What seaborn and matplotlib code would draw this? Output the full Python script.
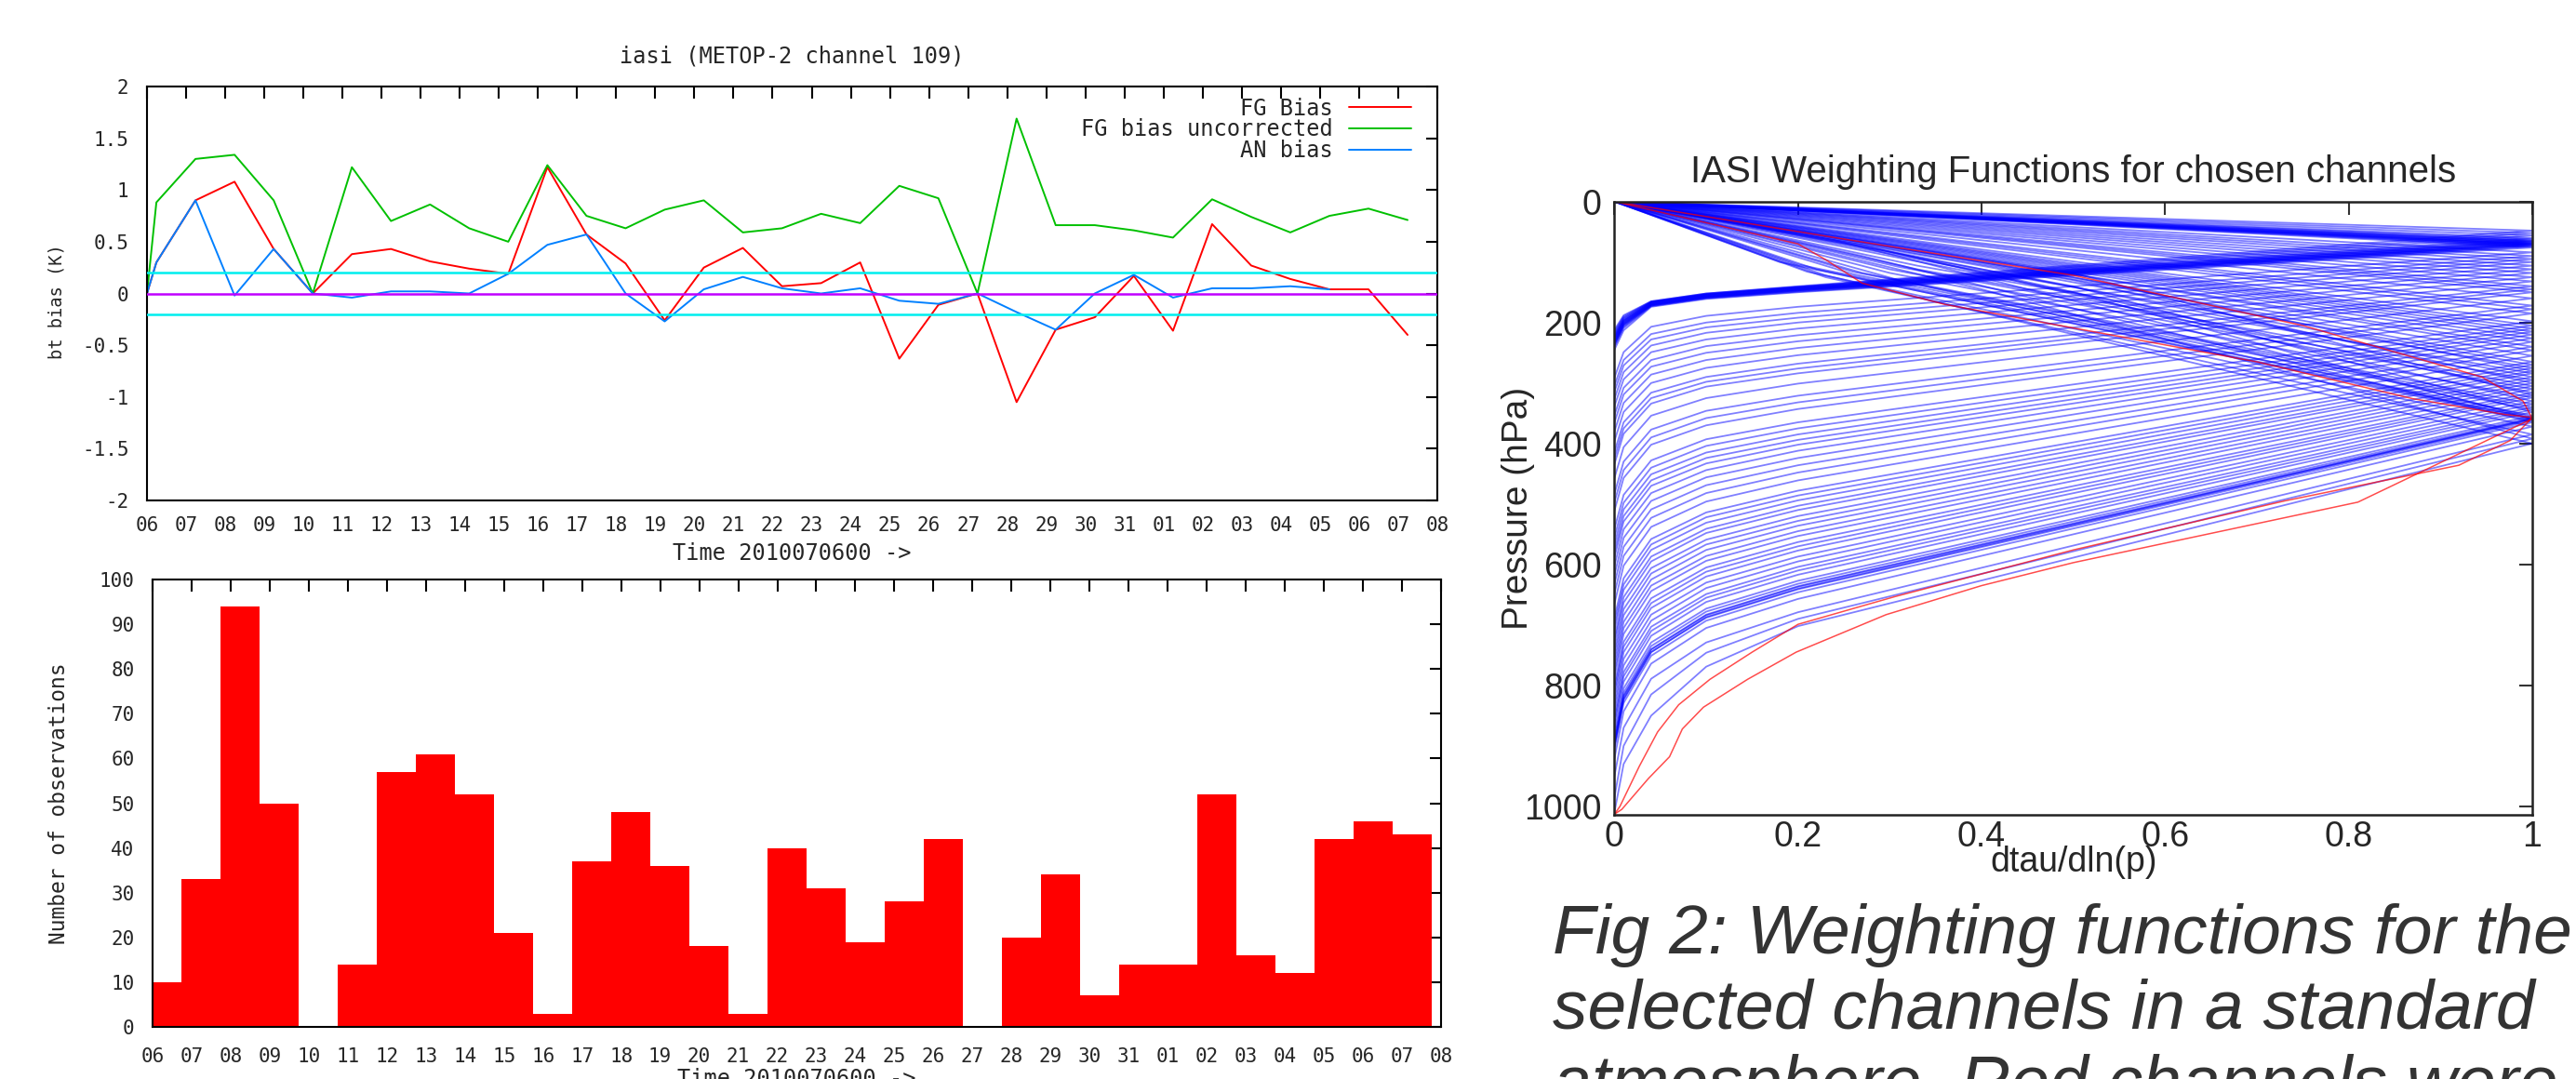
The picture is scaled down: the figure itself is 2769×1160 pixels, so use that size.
import numpy as np
import pandas as pd
import matplotlib
matplotlib.use("Agg")
import matplotlib.pyplot as plt
import seaborn as sns

# ------------------------------------------------------------------
# Left: daily monitoring of IASI channel 109 (06 July -> 08 August)
# ------------------------------------------------------------------
day_labels = ["06", "07", "08", "09", "10", "11", "12", "13", "14", "15",
              "16", "17", "18", "19", "20", "21", "22", "23", "24", "25",
              "26", "27", "28", "29", "30", "31", "01", "02", "03", "04",
              "05", "06", "07", "08"]

# one value per day (06 Jul .. 07 Aug), in K
fg_bias = [0.30, 0.90, 1.08, 0.43, 0.00, 0.38, 0.43, 0.31, 0.24, 0.19,
           1.22, 0.57, 0.29, -0.26, 0.25, 0.44, 0.07, 0.10, 0.30, -0.63,
           -0.11, 0.00, -1.05, -0.35, -0.23, 0.17, -0.36, 0.67, 0.27, 0.14,
           0.04, 0.04, -0.40]
fg_bias_uncorr = [0.88, 1.30, 1.34, 0.90, 0.00, 1.22, 0.70, 0.86, 0.63, 0.50,
                  1.24, 0.75, 0.63, 0.81, 0.90, 0.59, 0.63, 0.77, 0.68, 1.04,
                  0.92, 0.00, 1.69, 0.66, 0.66, 0.61, 0.54, 0.91, 0.74, 0.59,
                  0.75, 0.82, 0.71]
an_bias = [0.30, 0.90, -0.02, 0.43, 0.00, -0.04, 0.02, 0.02, 0.00, 0.19,
           0.47, 0.57, 0.00, -0.27, 0.04, 0.16, 0.05, 0.00, 0.05, -0.07,
           -0.10, 0.00, -0.18, -0.35, 0.00, 0.18, -0.04, 0.05, 0.05, 0.07,
           0.04, np.nan, np.nan]

n_obs = [10, 33, 94, 50, 0, 14, 57, 61, 52, 21, 3, 37, 48, 36, 18, 3, 40,
         31, 19, 28, 42, 0, 20, 34, 7, 14, 14, 52, 16, 12, 42, 46, 43]

y_ticks = [-2, -1.5, -1, -0.5, 0, 0.5, 1, 1.5, 2]
y_tick_labels = ["-2", "-1.5", "-1", "-0.5", "0", "0.5", "1", "1.5", "2"]

# ------------------------------------------------------------------
# Right: IASI weighting functions, pressures (hPa)
# upper limb: (0,0) -> (xu, pu) -> (1, peak)
# lower limb: p at x = 0.2, 0.1, 0.04, 0.01, 0
# ------------------------------------------------------------------
wf_low_x = [0.2, 0.1, 0.04, 0.01, 0.0]

strat_peak = [48, 52, 56, 60, 62, 64, 65, 66, 67, 68, 69, 70, 70, 71, 72,
              73, 74, 76]
strat_p020 = [140, 141, 141, 142, 142, 143, 143, 144, 144, 145, 145, 146,
              146, 147, 147, 148, 149, 150]
strat_p010 = [152, 152, 153, 153, 154, 154, 155, 155, 156, 156, 157, 157,
              158, 158, 159, 159, 160, 161]
strat_p004 = [165, 165, 166, 166, 167, 167, 168, 168, 169, 169, 170, 170,
              171, 171, 172, 172, 173, 174]
strat_p001 = [188, 190, 192, 193, 195, 196, 197, 198, 199, 200, 201, 202,
              203, 204, 205, 207, 209, 213]
strat_p000 = [212, 215, 218, 220, 222, 224, 225, 226, 228, 230, 230, 232,
              234, 235, 236, 238, 240, 245]

trop_peak = [84, 90, 95, 100, 106, 112, 118, 125, 132, 140, 150, 160, 172,
             185, 198, 210, 215, 220, 226, 240,
             255, 265, 275, 280, 284, 290, 300, 310, 316, 320, 324, 330, 340,
             348, 354, 357, 359, 359, 360, 362, 365, 372, 385, 392, 400,
             145, 178, 205, 232, 246, 270, 295, 305, 335, 344]
trop_xu = [0.5] * 20 + [
    0.40, 0.38, 0.36, 0.50, 0.33, 0.32, 0.50, 0.30, 0.29, 0.50, 0.30, 0.27,
    0.26, 0.50, 0.20, 0.24, 0.32, 0.18, 0.50, 0.22, 0.27, 0.21, 0.23, 0.40,
    0.23, 0.5, 0.5, 0.5, 0.5, 0.45, 0.37, 0.33, 0.31, 0.27, 0.26]
trop_pu = [42, 45, 47.5, 50, 53, 56, 59, 62.5, 66, 70, 75, 80, 86, 92.5, 99,
           105, 107.5, 110, 113, 120,
           100, 96, 104, 125, 106, 88, 130, 112, 80, 118, 118, 72, 116,
           140, 104, 64, 134, 100, 150, 112, 90, 116, 125, 145, 122,
           72.5, 89, 102.5, 116, 108, 98, 112, 108, 118, 120]
trop_p020 = [174, 184, 192, 200, 210, 221, 231, 242, 254, 268, 284, 301, 321,
             343, 365, 385, 394, 402, 412, 436,
             461, 478, 494, 503, 510, 520, 536, 553, 563, 570, 577, 587, 604,
             617, 627, 632, 636, 640, 637, 641, 646, 657, 679, 690, 702,
             276, 332, 375, 424, 448, 486, 528, 545, 595, 610]
trop_p010 = [189, 200, 208, 217, 228, 239, 250, 262, 275, 290, 306, 325, 346,
             370, 393, 415, 424, 433, 444, 469,
             496, 514, 531, 541, 548, 559, 576, 594, 605, 612, 620, 630, 649,
             662, 673, 678, 683, 687, 684, 688, 693, 705, 729, 746, 769,
             298, 358, 404, 456, 482, 522, 567, 586, 639, 655]
trop_p004 = [207, 219, 228, 238, 249, 262, 273, 286, 300, 316, 334, 354, 377,
             402, 428, 451, 461, 470, 482, 509,
             538, 558, 576, 587, 595, 606, 625, 644, 656, 664, 672, 683, 703,
             718, 729, 735, 740, 745, 741, 745, 751, 764, 789, 815, 850,
             325, 390, 440, 495, 523, 567, 615, 635, 693, 710]
trop_p001 = [249, 262, 271, 282, 294, 308, 319, 333, 348, 365, 384, 406, 430,
             457, 485, 509, 520, 529, 542, 571,
             602, 623, 642, 654, 663, 674, 695, 715, 728, 736, 745, 756, 778,
             794, 805, 812, 817, 823, 818, 823, 829, 843, 870, 900, 930,
             375, 444, 498, 556, 586, 633, 684, 705, 767, 785]
trop_p000 = [291, 304, 314, 326, 338, 353, 365, 380, 396, 414, 434, 457, 483,
             511, 541, 567, 578, 588, 602, 632,
             665, 688, 708, 721, 730, 742, 764, 785, 799, 808, 817, 829, 852,
             869, 881, 888, 894, 900, 895, 900, 906, 921, 950, 985, 1010,
             424, 497, 555, 617, 648, 698, 753, 775, 840, 860]

# channels rejected (red)
red_a_x = [0, 0.25, 0.5, 0.75, 0.945, 0.99, 1, 0.81, 0.5, 0.4, 0.296, 0.198,
           0.145, 0.097, 0.074, 0.06, 0.037, 0.008, 0]
red_a_p = [0, 62, 122, 205, 290, 330, 359, 497, 597, 635, 683, 745, 790, 836,
           872, 918, 954, 1005, 1013]
red_b_x = [0, 0.2, 0.23, 0.27, 0.36, 0.5, 0.7, 0.87, 0.97, 1, 0.976, 0.92,
           0.73, 0.5, 0.306, 0.2, 0.15, 0.104, 0.07, 0.047, 0.027, 0.006, 0]
red_b_p = [0, 70, 96, 135, 170, 209, 265, 326, 352, 357, 395, 436, 495, 576,
           653, 699, 745, 790, 832, 877, 934, 1000, 1013]

caption_lines = ["Fig 2: Weighting functions for the",
                 "selected channels in a standard",
                 "atmosphere. Red channels were"]

# ------------------------------------------------------------------
sns.set_style("white")
plt.rcParams["font.family"] = ["Liberation Sans", "DejaVu Sans"]
mono = "DejaVu Sans Mono"

W, H = 2769, 1160
fig = plt.figure(figsize=(W / 100, H / 100), dpi=100)


def px_axes(x0, y0, x1, y1):
    return fig.add_axes([x0 / W, 1 - y1 / H, (x1 - x0) / W, (y1 - y0) / H])


ax1 = px_axes(158, 93, 1545, 538)
ax2 = px_axes(164, 623, 1549, 1104)
ax3 = px_axes(1735.4, 216.7, 2722, 876)

# ---- top panel: bias time series
t_pts = [0.0] + [k + 0.24 for k in range(len(fg_bias))]
sns.lineplot(x=t_pts, y=[0.0] + fg_bias, color="#ff0000", lw=1.4,
             label="FG Bias", ax=ax1)
sns.lineplot(x=t_pts, y=[0.0] + fg_bias_uncorr, color="#00c000", lw=1.4,
             label="FG bias uncorrected", ax=ax1)
sns.lineplot(x=t_pts, y=[0.0] + an_bias, color="#0080ff", lw=1.4,
             label="AN bias", ax=ax1)
for yv, c in [(0.2, "#00eeee"), (-0.2, "#00eeee"), (0.0, "#c000ff")]:
    ax1.axhline(yv, color=c, lw=1.8, zorder=3)

ax1.set_xlim(0, 33)
ax1.set_ylim(-2, 2)
ax1.set_xticks(range(34))
ax1.set_xticklabels(day_labels, fontfamily=mono, fontsize=15)
ax1.set_yticks(y_ticks)
ax1.set_yticklabels(y_tick_labels, fontfamily=mono, fontsize=15)
ax1.tick_params(direction="in", top=True, right=True, length=9, width=1.5,
                color="black")
ax1.tick_params(axis="x", pad=12.5)
ax1.tick_params(axis="y", pad=14)
ax1.text(0.5, 1.058, "iasi (METOP-2 channel 109)", transform=ax1.transAxes,
         ha="center", va="baseline", fontfamily=mono, fontsize=17)
ax1.set_xlabel("Time 2010070600 ->", fontfamily=mono, fontsize=17)
ax1.xaxis.set_label_coords(0.5, -0.1)
ax1.set_ylabel("bt bias (K)", fontfamily=mono, fontsize=13.5)
ax1.yaxis.set_label_coords(-0.0634, 0.48)
ax1.legend(loc="upper right", bbox_to_anchor=(0.9798, 0.974), frameon=False,
           markerfirst=False, prop={"family": mono, "size": 17},
           handlelength=2.85, handletextpad=0.72, labelspacing=-0.05,
           borderpad=0, borderaxespad=0)

# ---- bottom panel: number of observations
bar_x = [k + 0.25 for k in range(len(n_obs))]
sns.barplot(x=bar_x, y=n_obs, native_scale=True, width=1.0, color="#ff0000",
            saturation=1, errorbar=None, linewidth=0, edgecolor="none", ax=ax2)
ax2.set_axisbelow(True)
ax2.set_xlim(0, 33)
ax2.set_ylim(0, 100)
ax2.set_xticks(range(34))
ax2.set_xticklabels(day_labels, fontfamily=mono, fontsize=15)
ax2.set_yticks(range(0, 101, 10))
ax2.set_yticklabels([str(v) for v in range(0, 101, 10)], fontfamily=mono,
                    fontsize=15)
ax2.tick_params(direction="in", top=True, right=True, length=9, width=1.5,
                color="black")
ax2.tick_params(axis="x", pad=16)
ax2.tick_params(axis="y", pad=14)
ax2.set_xlabel("Time 2010070600 ->", fontfamily=mono, fontsize=17)
ax2.xaxis.set_label_coords(0.5, -0.0915)
ax2.set_ylabel("Number of observations", fontfamily=mono, fontsize=16.5)
ax2.yaxis.set_label_coords(-0.0643, 0.5)

for ax in (ax1, ax2):
    for s in ax.spines.values():
        s.set_linewidth(1.5)
        s.set_color("black")

# ---- right panel: weighting functions
rows = []
strat = zip(strat_peak, strat_p020, strat_p010, strat_p004, strat_p001,
            strat_p000)
for i, (pk, *low) in enumerate(strat):
    xs = [0.0, 1.0] + wf_low_x
    ps = [0.0, pk] + low
    for x, p in zip(xs, ps):
        rows.append({"x": x, "p": p, "ch": f"s{i}"})
trop = zip(trop_xu, trop_pu, trop_peak, trop_p020, trop_p010, trop_p004,
           trop_p001, trop_p000)
for i, (xu, pu, pk, *low) in enumerate(trop):
    xs = [0.0, xu, 1.0] + wf_low_x
    ps = [0.0, pu, pk] + low
    for x, p in zip(xs, ps):
        rows.append({"x": x, "p": p, "ch": f"t{i}"})
wf = pd.DataFrame(rows)

sns.lineplot(data=wf, x="x", y="p", units="ch", estimator=None, sort=False,
             color="#0000ff", alpha=0.5, lw=1.3, ax=ax3)
red = pd.DataFrame({"x": red_a_x + red_b_x, "p": red_a_p + red_b_p,
                    "ch": ["a"] * len(red_a_x) + ["b"] * len(red_b_x)})
sns.lineplot(data=red, x="x", y="p", units="ch", estimator=None, sort=False,
             color="#ff0000", alpha=0.7, lw=1.1, ax=ax3)

ax3.set_xlim(0, 1)
ax3.set_ylim(1014, 0)
ax3.set_xticks([0, 0.2, 0.4, 0.6, 0.8, 1.0])
ax3.set_xticklabels(["0", "0.2", "0.4", "0.6", "0.8", "1"], fontsize=27)
ax3.set_yticks([0, 200, 400, 600, 800, 1000])
ax3.set_yticklabels(["0", "200", "400", "600", "800", "1000"], fontsize=27)
ax3.tick_params(direction="in", top=True, right=True, length=10, width=1.5,
                color="#333333")
ax3.tick_params(axis="x", pad=4)
ax3.tick_params(axis="y", pad=10)
for s in ax3.spines.values():
    s.set_linewidth(1.8)
    s.set_color("#222222")
ax3.text(0.5, 1.0314, "IASI Weighting Functions for chosen channels",
         transform=ax3.transAxes, ha="center", va="baseline", fontsize=29)
ax3.set_xlabel("dtau/dln(p)", fontsize=27)
ax3.xaxis.set_label_coords(0.5, -0.05)
ax3.set_ylabel("Pressure (hPa)", fontsize=28)
ax3.yaxis.set_label_coords(-0.0866, 0.5)

# ---- caption
for i, line in enumerate(caption_lines):
    fig.text(1669 / W, 1 - (1025 + 81 * i) / H, line, ha="left",
             va="baseline", fontsize=54, style="italic", color="#333333")

fig.savefig("out.png", dpi=100)
